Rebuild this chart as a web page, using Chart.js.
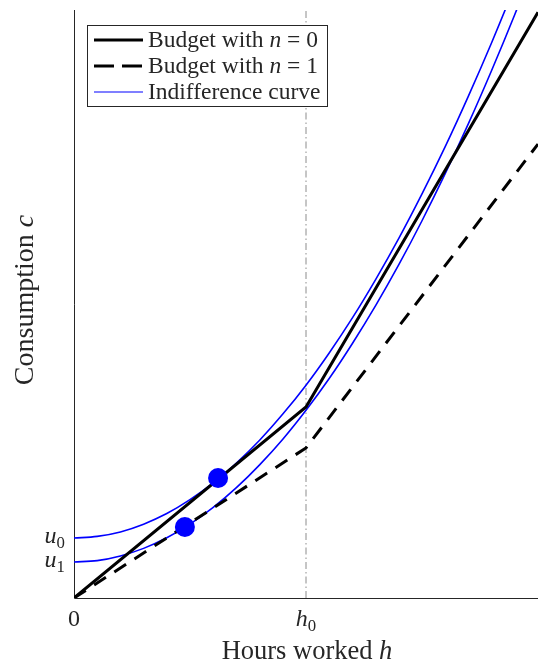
<!DOCTYPE html>
<html>
<head>
<meta charset="utf-8">
<script src="https://cdn.jsdelivr.net/npm/chart.js@4.4.0/dist/chart.umd.min.js"></script>
<style>
  html, body { margin: 0; padding: 0; background: #fff; }
</style>
</head>
<body>
<canvas id="myCanvas" width="538" height="667"></canvas>
<script>
// hours worked, h0 = 1 on this scale
const hours = [0, 0.1, 0.2, 0.3, 0.4, 0.5, 0.6, 0.7, 0.8, 0.9, 1.0,
               1.1, 1.2, 1.3, 1.4, 1.5, 1.6, 1.7, 1.8, 1.9, 2.0];
// indifference curves
const curveU0 = [0.255, 0.262, 0.281, 0.314, 0.359, 0.418, 0.489, 0.574, 0.671, 0.782, 0.905,
                 1.042, 1.191, 1.354, 1.529, 1.718, 1.919, 2.134, 2.361, 2.602, 2.855];
const curveU1 = [0.153, 0.159, 0.179, 0.211, 0.256, 0.314, 0.385, 0.469, 0.566, 0.675, 0.798,
                 0.933, 1.082, 1.243, 1.417, 1.604, 1.804, 2.017, 2.243, 2.481, 2.733];
// budget lines (kink at h0)
const budgetHours = [0, 1, 2];
const budgetN0 = [0, 0.812, 2.49];
const budgetN1 = [0, 0.638, 1.93];
// optimal choices
const optimumH = [0.621, 0.478];
const optimumC = [0.510, 0.302];
const h0 = 1;

const xTicks = [0, 1];
const xTickLabels = ["0", "h_0"];
const yTicks = [0.255, 0.153];
const yTickLabels = ["u_0", "u_1"];
const legendLabels = ["Budget with n = 0", "Budget with n = 1", "Indifference curve"];
const xTitle = "Hours worked h";
const yTitle = "Consumption c";

const FONT = '"Liberation Serif", "Times New Roman", serif';

function pts(xs, ys) {
  return xs.map((x, i) => ({ x: x, y: ys[i] }));
}

// split text so that lone letters are italic and "_0" becomes a subscript
function pieces(text) {
  let out = [];
  text.split(/(\s+)/).forEach(w => {
    if (/^[a-z](_\d)?$/.test(w)) {
      out.push({ t: w[0], italic: true });
      if (w.length > 1) out.push({ t: w.slice(2), sub: true });
    } else if (w.length) {
      out.push({ t: w });
    }
  });
  return out;
}
function fontFor(p, size) {
  let s = p.sub ? size * 0.7 : size;
  return (p.italic ? "italic " : "") + s + "px " + FONT;
}
function drawText(ctx, text, x, y, size, align) {
  let ps = pieces(text);
  let w = 0;
  ps.forEach(p => {
    ctx.font = fontFor(p, size);
    p.w = ctx.measureText(p.t).width;
    w += p.w;
  });
  let cx = align === "center" ? x - w / 2 : align === "right" ? x - w : x;
  ctx.textAlign = "left";
  ctx.textBaseline = "alphabetic";
  ctx.fillStyle = "#262626";
  ps.forEach(p => {
    ctx.font = fontFor(p, size);
    ctx.fillText(p.t, cx, p.sub ? y + size * 0.22 : y);
    cx += p.w;
  });
}

const decor = {
  id: "decor",
  beforeDatasetsDraw(chart) {
    const ctx = chart.ctx;
    const a = chart.chartArea;
    ctx.save();
    ctx.strokeStyle = "#262626";
    ctx.lineWidth = 1;
    ctx.beginPath();
    ctx.moveTo(a.left + 0.5, a.top);
    ctx.lineTo(a.left + 0.5, a.bottom + 0.5);
    ctx.lineTo(a.right, a.bottom + 0.5);
    ctx.stroke();
    ctx.restore();
  },
  afterDraw(chart) {
    const ctx = chart.ctx;
    const xs = chart.scales.x, ys = chart.scales.y;
    ctx.save();
    xTicks.forEach((v, i) => {
      drawText(ctx, xTickLabels[i], xs.getPixelForValue(v), 626, 24, "center");
    });
    yTicks.forEach((v, i) => {
      drawText(ctx, yTickLabels[i], 65, ys.getPixelForValue(v) + 5, 24, "right");
    });
    drawText(ctx, xTitle, 307, 659, 26.5, "center");
    ctx.save();
    ctx.translate(33, 300);
    ctx.rotate(-Math.PI / 2);
    drawText(ctx, yTitle, 0, 0, 28, "center");
    ctx.restore();

    // legend
    ctx.fillStyle = "#fff";
    ctx.fillRect(87.5, 25.5, 240, 81);
    ctx.strokeStyle = "#262626";
    ctx.lineWidth = 1;
    ctx.strokeRect(87.5, 25.5, 240, 81);
    const rows = [40, 66, 92];
    const styles = [
      { c: "#000", w: 3, d: [] },
      { c: "#000", w: 3, d: [20, 8] },
      { c: "#0000ff", w: 1.2, d: [] }
    ];
    rows.forEach((ry, i) => {
      ctx.beginPath();
      ctx.strokeStyle = styles[i].c;
      ctx.lineWidth = styles[i].w;
      ctx.setLineDash(styles[i].d);
      ctx.moveTo(94, ry);
      ctx.lineTo(143, ry);
      ctx.stroke();
      ctx.setLineDash([]);
      drawText(ctx, legendLabels[i], 148, ry + 7, 23.5, "left");
    });
    ctx.restore();
  }
};

const lineBase = { showLine: true, pointRadius: 0, fill: false, borderCapStyle: "butt" };

new Chart(document.getElementById("myCanvas"), {
  type: "scatter",
  data: {
    datasets: [
      { data: pts(optimumH, optimumC), showLine: false, pointRadius: 10,
        backgroundColor: "#0000ff", borderColor: "#0000ff", borderWidth: 0, order: 0 },
      Object.assign({}, lineBase, { data: pts(budgetHours, budgetN0), borderColor: "#000", borderWidth: 3, order: 1 }),
      Object.assign({}, lineBase, { data: pts(budgetHours, budgetN1), borderColor: "#000", borderWidth: 3,
        borderDash: [14, 10], order: 1 }),
      Object.assign({}, lineBase, { data: pts(hours, curveU0), borderColor: "#0000ff", borderWidth: 1.6,
        cubicInterpolationMode: "monotone", order: 2 }),
      Object.assign({}, lineBase, { data: pts(hours, curveU1), borderColor: "#0000ff", borderWidth: 1.6,
        cubicInterpolationMode: "monotone", order: 2 }),
      Object.assign({}, lineBase, { data: pts([h0, h0], [0, 2.5]), borderColor: "#8c8c8c", borderWidth: 1,
        borderDash: [7, 3, 1.5, 3], order: 3 })
    ]
  },
  options: {
    responsive: false,
    animation: false,
    devicePixelRatio: 1,
    layout: { autoPadding: false, padding: { left: 74, top: 10, right: 0, bottom: 69 } },
    plugins: { legend: { display: false }, tooltip: { enabled: false } },
    scales: {
      x: { type: "linear", min: 0, max: 2, display: false },
      y: { type: "linear", min: 0, max: 2.5, display: false }
    }
  },
  plugins: [decor]
});
</script>
</body>
</html>
